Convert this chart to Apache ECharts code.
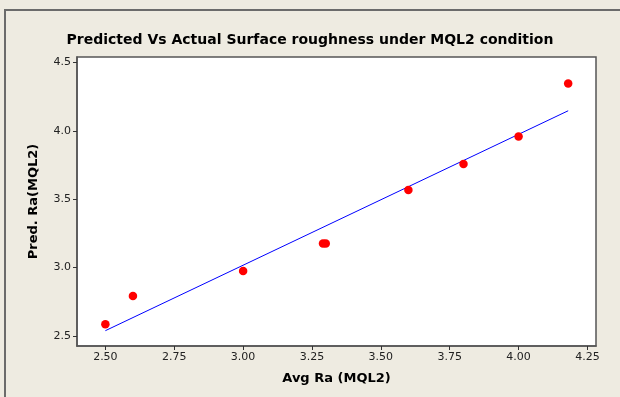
<!DOCTYPE html>
<html>
<head>
<meta charset="utf-8">
<script src="https://cdn.jsdelivr.net/npm/echarts@6/dist/echarts.min.js"></script>
<style>
html,body{margin:0;padding:0;background:#EEEBE1;}
#c{width:620px;height:397px;}
</style>
</head>
<body>
<div id="c"></div>
<script>
const actualRa = [2.50, 2.60, 3.00, 3.29, 3.30, 3.60, 3.80, 4.00, 4.18];
const predRa   = [2.586, 2.793, 2.976, 3.176, 3.176, 3.567, 3.757, 3.959, 4.347];
const fitX = [2.50, 4.18];
const fitY = [2.539, 4.147];
const xTicks = [2.50, 2.75, 3.00, 3.25, 3.50, 3.75, 4.00, 4.25];
const yTicks = [2.5, 3.0, 3.5, 4.0, 4.5];

const chart = echarts.init(document.getElementById('c'), null, {renderer: 'canvas'});
const font = '"DejaVu Sans", Verdana, sans-serif';
chart.setOption({
  backgroundColor: '#EEEBE1',
  animation: false,
  title: {
    text: 'Predicted Vs Actual Surface roughness under MQL2 condition',
    left: 'center', top: 28,
    textStyle: {fontFamily: font, fontWeight: 'bold', fontSize: 14, color: '#000'}
  },
  graphic: [{
    type: 'rect', shape: {x: 5, y: 10, width: 640, height: 420},
    style: {fill: 'none', stroke: '#6b6b6b', lineWidth: 2}, silent: true
  }],
  grid: {
    left: 77, top: 57, right: 24, bottom: 51, containLabel: false,
    show: true, backgroundColor: '#fff', borderColor: '#555', borderWidth: 1.5
  },
  xAxis: {
    type: 'value', min: 2.397, max: 4.281,
    name: 'Avg Ra (MQL2)', nameLocation: 'middle', nameGap: 26,
    nameTextStyle: {fontFamily: font, fontWeight: 'bold', fontSize: 13, color: '#000'},
    axisLine: {show: true, lineStyle: {color: '#555', width: 1.5}},
    axisTick: {show: true, customValues: xTicks, length: 4, lineStyle: {color: '#333'}},
    axisLabel: {customValues: xTicks, fontFamily: font, fontSize: 11, color: '#222', margin: 6,
      formatter: v => v.toFixed(2)},
    splitLine: {show: false}
  },
  yAxis: {
    type: 'value', min: 2.427, max: 4.54,
    name: 'Pred. Ra(MQL2)', nameLocation: 'middle', nameGap: 37, nameRotate: 90,
    nameTextStyle: {fontFamily: font, fontWeight: 'bold', fontSize: 13, color: '#000'},
    axisLine: {show: true, lineStyle: {color: '#555', width: 1.5}},
    axisTick: {show: true, customValues: yTicks, length: 4, lineStyle: {color: '#333'}},
    axisLabel: {customValues: yTicks, fontFamily: font, fontSize: 11, color: '#222', margin: 6,
      formatter: v => v.toFixed(1)},
    splitLine: {show: false}
  },
  series: [
    {
      type: 'line', data: fitX.map((x, i) => [x, fitY[i]]),
      showSymbol: false, symbol: 'none', lineStyle: {color: '#0000FF', width: 1}, z: 2
    },
    {
      type: 'scatter', data: actualRa.map((x, i) => [x, predRa[i]]),
      symbol: 'circle', symbolSize: 8.5, itemStyle: {color: '#FF0000', opacity: 1}, z: 3
    }
  ]
});
</script>
</body>
</html>
